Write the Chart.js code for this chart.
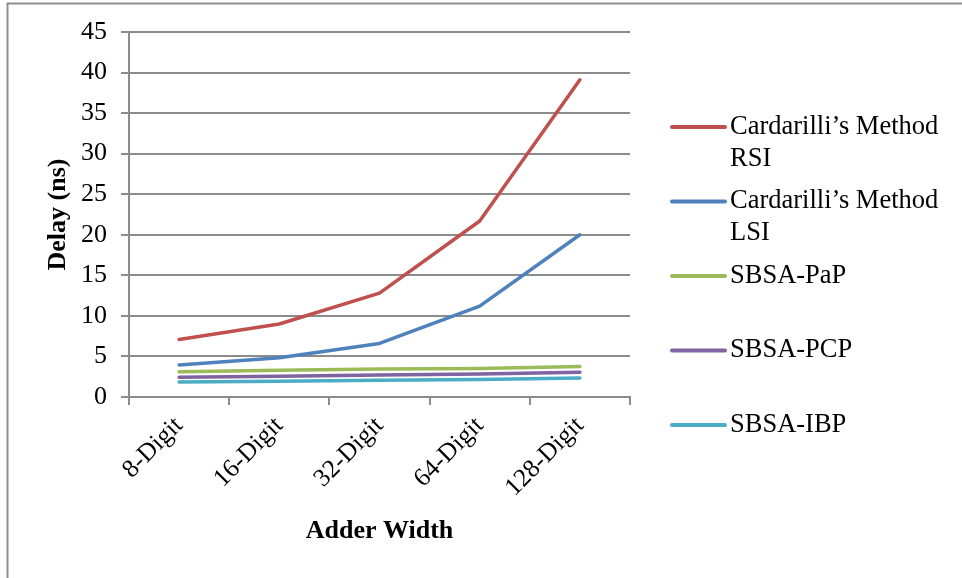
<!DOCTYPE html>
<html>
<head>
<meta charset="utf-8">
<script src="https://cdn.jsdelivr.net/npm/chart.js@4.4.1/dist/chart.umd.min.js"></script>
<style>
  html, body { margin: 0; padding: 0; background: #ffffff; }
  canvas { display: block; }
</style>
</head>
<body>
<canvas id="chart" width="962" height="578"></canvas>
<script>
// Adder widths on the category axis
const categories = ['8-Digit', '16-Digit', '32-Digit', '64-Digit', '128-Digit'];

// Series names (legend text)
const seriesNames = [
  'Cardarilli’s Method RSI',
  'Cardarilli’s Method LSI',
  'SBSA-PaP',
  'SBSA-PCP',
  'SBSA-IBP'
];

// Delay in ns for each adder width
const rsiDelay = [7.1, 9.0, 12.8, 21.7, 39.1];
const lsiDelay = [3.95, 4.85, 6.6, 11.2, 20.0];
const papDelay = [3.1, 3.3, 3.45, 3.5, 3.75];
const pcpDelay = [2.45, 2.55, 2.7, 2.85, 3.05];
const ibpDelay = [1.85, 1.95, 2.05, 2.15, 2.35];

// Value axis range
const yMin = 0;
const yMax = 45;
const yStep = 5;

const seriesColors = ['#C0504D', '#4F81BD', '#9BBB59', '#8064A2', '#4BACC6'];
const seriesValues = [rsiDelay, lsiDelay, papDelay, pcpDelay, ibpDelay];

const gridColor = '#8c8c8c';
const serif = '"Liberation Serif", "Times New Roman", serif';

Chart.defaults.font.family = serif;
Chart.defaults.color = '#000000';

// Thin grey frame around the figure (left and top edges visible)
const framePlugin = {
  id: 'frame',
  beforeDraw(chart) {
    const ctx = chart.ctx;
    ctx.save();
    ctx.fillStyle = '#ffffff';
    ctx.fillRect(0, 0, chart.width, chart.height);
    ctx.strokeStyle = '#8f8f8f';
    ctx.lineWidth = 2;
    ctx.beginPath();
    ctx.moveTo(7.5, chart.height + 5);
    ctx.lineTo(7.5, 3.5);
    ctx.lineTo(chart.width + 5, 3.5);
    ctx.stroke();
    ctx.restore();
  }
};

// Legend to the right of the plot, with wrapped multi-line entries
const sideLegendPlugin = {
  id: 'sideLegend',
  afterDraw(chart) {
    const ctx = chart.ctx;
    const lineX0 = 672, lineX1 = 725, textX = 730;
    const firstY = 127, step = 74.5, lineGap = 32;
    const maxWidth = chart.width - textX - 2;
    ctx.save();
    ctx.font = '26.5px ' + serif;
    ctx.textAlign = 'left';
    ctx.textBaseline = 'middle';
    chart.data.datasets.forEach((ds, i) => {
      const y = firstY + i * step;
      ctx.strokeStyle = ds.borderColor;
      ctx.lineWidth = 4;
      ctx.lineCap = 'round';
      ctx.beginPath();
      ctx.moveTo(lineX0, y);
      ctx.lineTo(lineX1, y);
      ctx.stroke();
      // word wrap
      const words = ds.label.split(' ');
      const lines = [];
      let cur = '';
      words.forEach(w => {
        const test = cur ? cur + ' ' + w : w;
        if (cur && ctx.measureText(test).width > maxWidth) {
          lines.push(cur);
          cur = w;
        } else {
          cur = test;
        }
      });
      if (cur) lines.push(cur);
      ctx.fillStyle = '#000000';
      lines.forEach((ln, k) => ctx.fillText(ln, textX, y + k * lineGap));
    });
    ctx.restore();
  }
};

const datasets = seriesNames.map((name, i) => ({
  label: name,
  data: seriesValues[i],
  borderColor: seriesColors[i],
  backgroundColor: seriesColors[i],
  borderWidth: 3.5,
  borderCapStyle: 'round',
  borderJoinStyle: 'round',
  pointRadius: 0,
  pointHoverRadius: 0,
  tension: 0,
  fill: false
}));

new Chart(document.getElementById('chart'), {
  type: 'line',
  data: { labels: categories, datasets },
  options: {
    responsive: false,
    animation: false,
    events: [],
    layout: { padding: { left: 0, top: 32, right: 332, bottom: 0 } },
    plugins: {
      legend: { display: false },
      tooltip: { enabled: false }
    },
    scales: {
      x: {
        type: 'category',
        offset: true,
        afterFit(scale) { scale.height = 181; },
        grid: {
          offset: true,
          drawOnChartArea: false,
          drawTicks: true,
          tickLength: 8,
          color: gridColor,
          lineWidth: 2
        },
        border: { display: true, color: gridColor, width: 2 },
        ticks: {
          minRotation: 45,
          maxRotation: 45,
          padding: 6,
          font: { size: 25.5 },
          color: '#000000'
        },
        title: {
          display: true,
          text: 'Adder Width',
          font: { size: 26, weight: 'bold' },
          color: '#000000',
          padding: { top: 0, bottom: 31 }
        }
      },
      y: {
        min: yMin,
        max: yMax,
        afterFit(scale) { scale.width = 129; },
        ticks: {
          stepSize: yStep,
          padding: 14,
          font: { size: 26 },
          color: '#000000'
        },
        grid: {
          color: gridColor,
          lineWidth: 2,
          tickLength: 8,
          drawTicks: true
        },
        border: { display: true, color: gridColor, width: 2 },
        title: {
          display: true,
          text: 'Delay (ns)',
          font: { size: 26, weight: 'bold' },
          color: '#000000',
          padding: { top: 43, bottom: 0 }
        }
      }
    }
  },
  plugins: [framePlugin, sideLegendPlugin]
});
</script>
</body>
</html>
